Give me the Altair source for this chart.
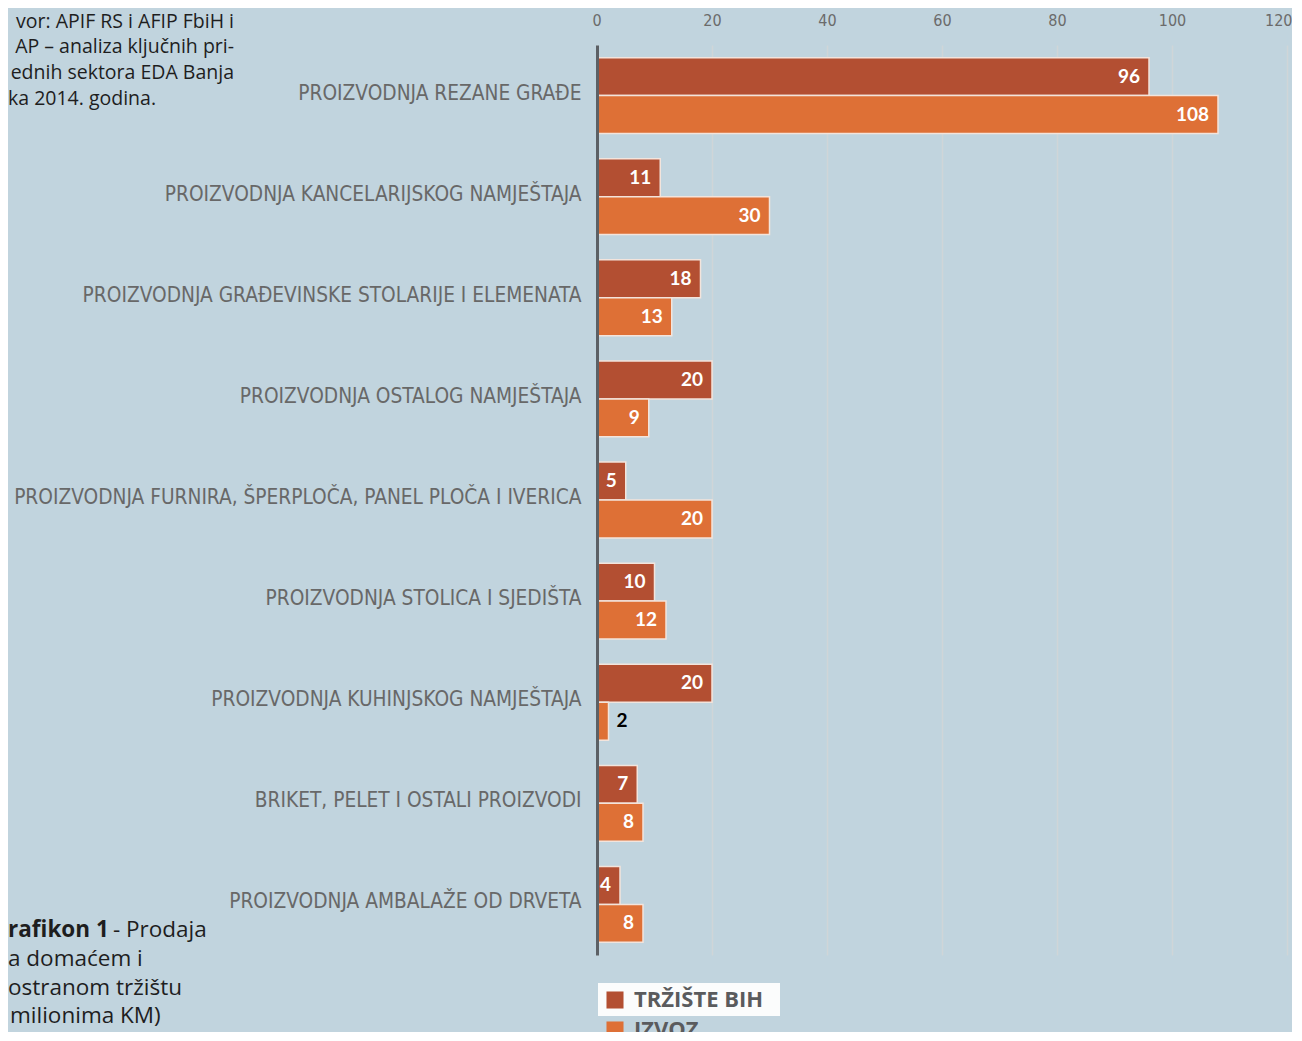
import altair as alt
import pandas as pd

categories = [
    "PROIZVODNJA REZANE GRAĐE",
    "PROIZVODNJA KANCELARIJSKOG NAMJEŠTAJA",
    "PROIZVODNJA GRAĐEVINSKE STOLARIJE I ELEMENATA",
    "PROIZVODNJA OSTALOG NAMJEŠTAJA",
    "PROIZVODNJA FURNIRA, ŠPERPLOČA, PANEL PLOČA I IVERICA",
    "PROIZVODNJA STOLICA I SJEDIŠTA",
    "PROIZVODNJA KUHINJSKOG NAMJEŠTAJA",
    "BRIKET, PELET I OSTALI PROIZVODI",
    "PROIZVODNJA AMBALAŽE OD DRVETA",
]
series = ["TRŽIŠTE BIH", "IZVOZ"]
trziste_bih = [96, 11, 18, 20, 5, 10, 20, 7, 4]
izvoz = [108, 30, 13, 9, 20, 12, 2, 8, 8]
x_ticks = [0, 20, 40, 60, 80, 100, 120]
colors = ["#b34f32", "#de7036"]

source_lines = [
    "vor: APIF RS i AFIP FbiH i",
    "AP – analiza ključnih pri-",
    "ednih sektora EDA Banja",
    "ka 2014. godina.",
]
caption_bold = "rafikon 1"
caption_lines = ["- Prodaja", "a domaćem i", "ostranom tržištu", "milionima KM)"]

rows = []
for i, c in enumerate(categories):
    rows.append({"cat": c, "series": series[0], "v": trziste_bih[i]})
    rows.append({"cat": c, "series": series[1], "v": izvoz[i]})
df = pd.DataFrame(rows)

LABEL_FONT = "Liberation Sans Narrow, DejaVu Sans Condensed, sans-serif"
BODY_FONT = "Open Sans, Lato, sans-serif"
NUM_FONT = "Lato, Open Sans, sans-serif"

y_enc = alt.Y(
    "cat:N",
    sort=categories,
    scale=alt.Scale(paddingInner=0.25, paddingOuter=0.125),
    axis=alt.Axis(
        title=None, ticks=False, grid=False, labelFont=LABEL_FONT, labelFontSize=20.7,
        labelColor="#686868", labelPadding=16, labelLimit=800, labelOffset=-2,
        domainColor="#5c6065", domainWidth=3, zindex=1,
    ),
)
yoff = alt.YOffset("series:N", sort=series, scale=alt.Scale(paddingInner=0, paddingOuter=0))
x_enc = alt.X(
    "v:Q",
    scale=alt.Scale(domain=[0, 120], nice=False),
    axis=alt.Axis(
        orient="top", values=x_ticks, title=None, domain=False, ticks=False,
        grid=True, gridColor="#d0d5d8", gridWidth=1.5, labelFont=LABEL_FONT,
        labelFontSize=16, labelColor="#6b6b6b", labelPadding=17,
        labelFlush=True, labelFlushOffset=5,
    ),
)

bars = alt.Chart(df).mark_bar(stroke="#f3e4dc", strokeWidth=1.5).encode(
    x=x_enc, y=y_enc, yOffset=yoff,
    color=alt.Color(
        "series:N",
        scale=alt.Scale(domain=series, range=colors),
        legend=alt.Legend(
            title=None, orient="none", legendX=7, legendY=944, symbolType="square",
            symbolSize=290, symbolStrokeWidth=0, symbolOpacity=1, labelFont=BODY_FONT,
            labelFontSize=22, labelFontWeight="bold", labelColor="#5a5b5d",
            labelOffset=8, rowPadding=8, padding=0,
        ),
    ),
)

inside = alt.Chart(df).transform_filter("datum.v >= 4").mark_text(
    align="right", baseline="middle", dx=-9, font=NUM_FONT, fontSize=19,
    fontWeight="bold", color="white",
).encode(x="v:Q", y=alt.Y("cat:N", sort=categories), yOffset=yoff, text="v:Q")

outside = alt.Chart(df).transform_filter("datum.v < 4").mark_text(
    align="left", baseline="middle", dx=8, font=NUM_FONT, fontSize=19,
    fontWeight="bold", color="black",
).encode(x="v:Q", y=alt.Y("cat:N", sort=categories), yOffset=yoff, text="v:Q")

legend_box = alt.Chart(pd.DataFrame({"a": [0]})).mark_rect(color="#fbfcfc").encode(
    x=alt.value(1), x2=alt.value(183), y=alt.value(938), y2=alt.value(971)
)

def note(text, x, y, align="left", size=19, weight="normal"):
    return alt.Chart(pd.DataFrame({"t": [text]})).mark_text(
        align=align, baseline="middle", font=BODY_FONT, fontSize=size,
        fontWeight=weight, color="#1e1e1e",
    ).encode(x=alt.value(x), y=alt.value(y), text="t:N")

notes = [
    note(source_lines[0], -363, -23, align="right", size=19.5),
    note(source_lines[1], -363, 2, align="right", size=19.5),
    note(source_lines[2], -363, 28, align="right", size=19.5),
    note(source_lines[3], -589, 54, size=19.5),
    note(caption_bold, -589, 885, size=22.5, weight="bold"),
    note(caption_lines[0], -484, 885, size=22.5),
    note(caption_lines[1], -589, 914, size=22.5),
    note(caption_lines[2], -589, 943, size=22.5),
    note(caption_lines[3], -587, 971, size=22.5),
]

chart = alt.layer(legend_box, bars, inside, outside, *notes).properties(
    width=690, height=910, background="#c1d4de",
    padding={"left": 589, "top": 37, "right": 5, "bottom": 77},
    autosize=alt.AutoSizeParams(type="none"),
).configure_view(stroke=None)

chart.save("out.html", embed_options={"renderer": "svg", "actions": False})
